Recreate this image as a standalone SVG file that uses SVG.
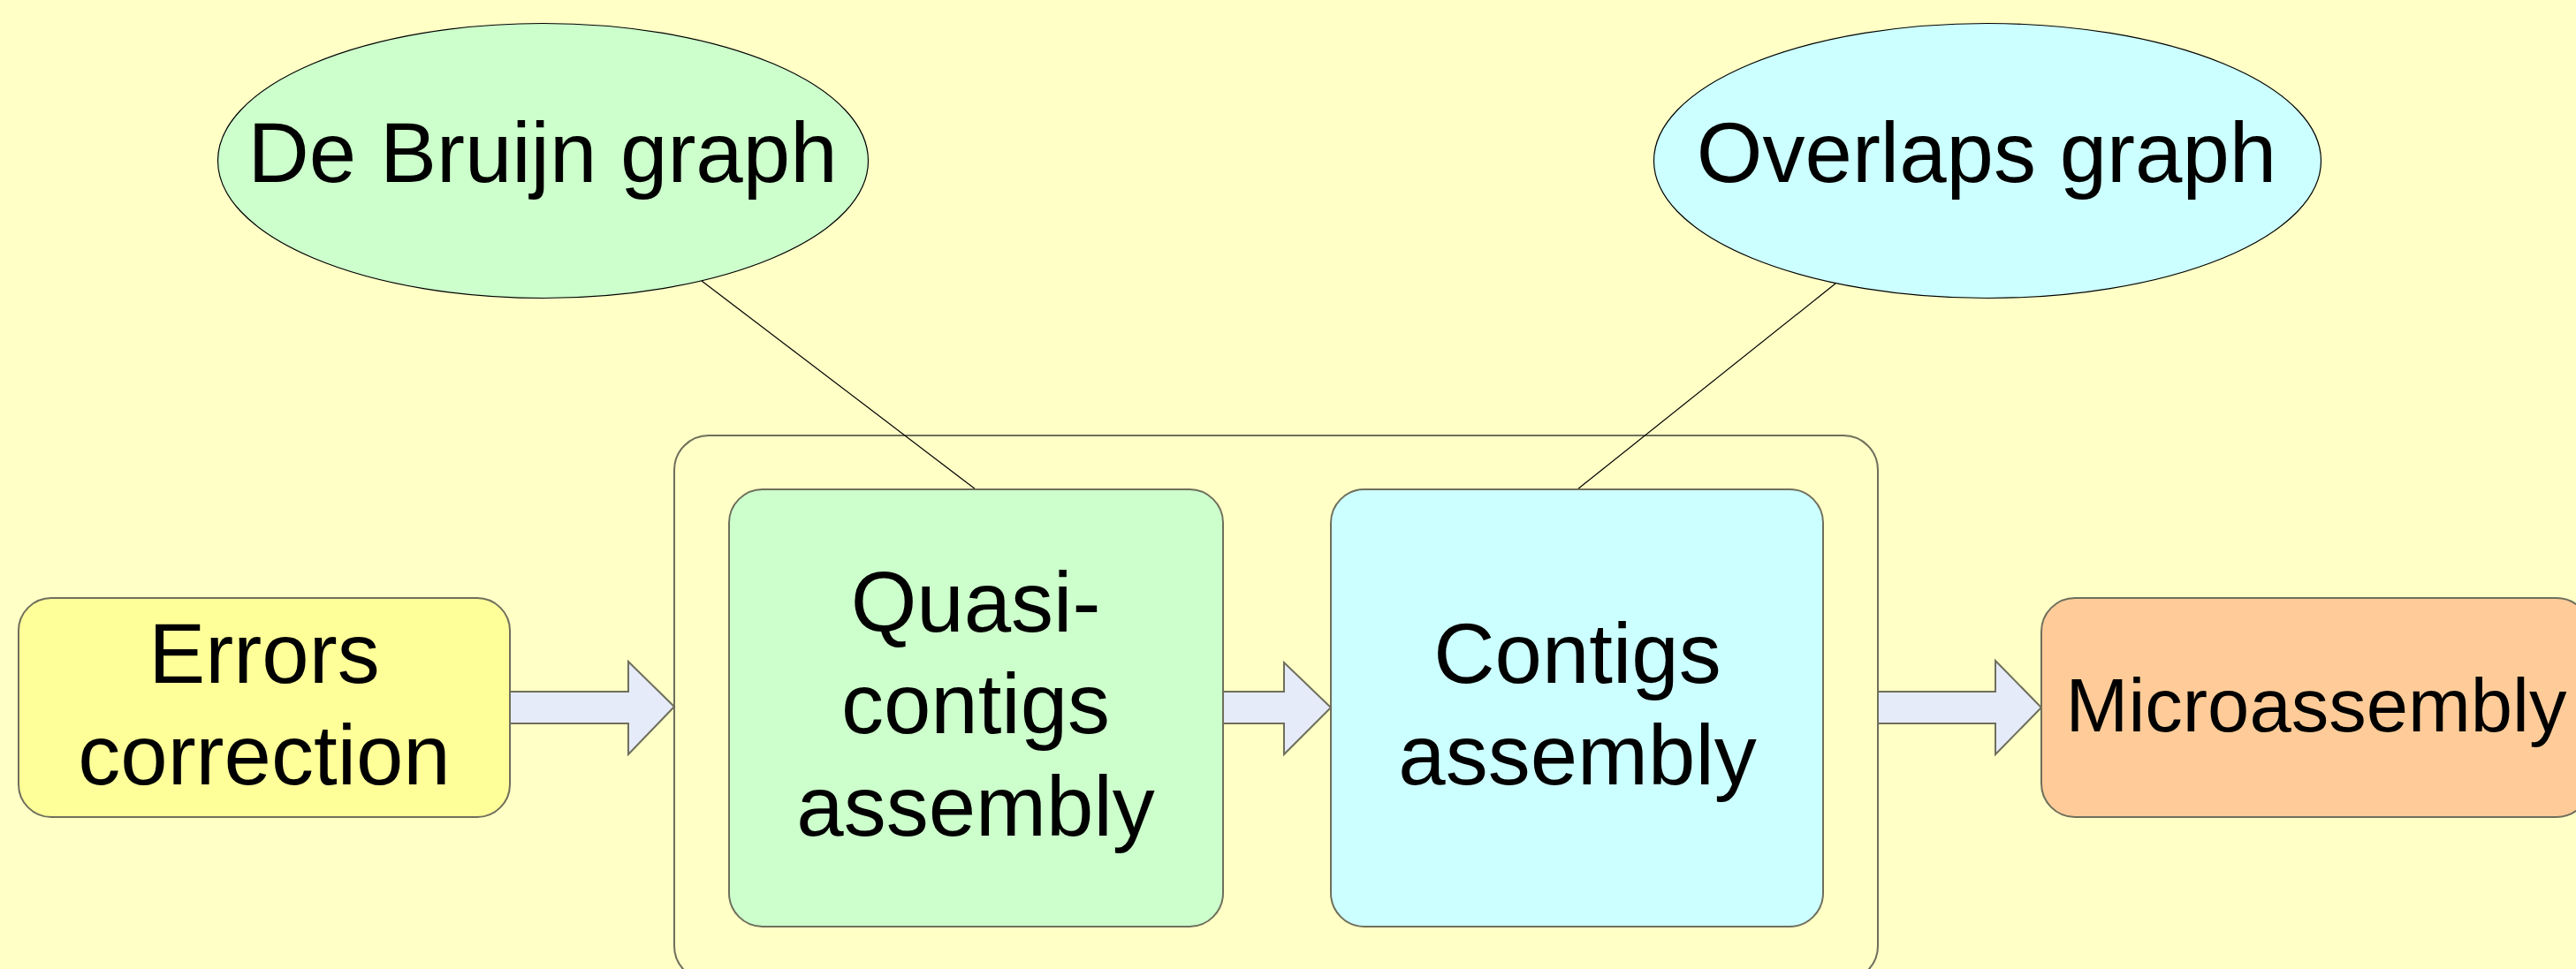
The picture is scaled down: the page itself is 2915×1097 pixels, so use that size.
<svg xmlns="http://www.w3.org/2000/svg" width="2915" height="1097" viewBox="0 0 2915 1097">
  <style>
    .box { stroke: #6f6f5c; stroke-width: 2; }
    .oval { stroke: #000000; stroke-width: 1.2; }
    .flow { fill: #e5ebf8; stroke: #6f6f5c; stroke-width: 2; stroke-linejoin: miter; }
    .link { stroke: #000000; stroke-width: 1.2; fill: none; }
    .lbl { font-family: "Liberation Sans", Arial, sans-serif; font-size: 96px; fill: #000000; text-anchor: middle; }
    .green { fill: #ccffcc; }
    .cyan { fill: #ccffff; }
  </style>

  <!-- page background -->
  <rect x="0" y="0" width="2915" height="1097" fill="#ffffc6"/>

  <!-- group frame around the two assembly stages -->
  <g id="assembly-stage">
    <rect x="763" y="493" width="1362" height="617" rx="39" ry="39" fill="none" class="box"/>
  </g>

  <!-- connectors: block arrows and graph links -->
  <g id="connectors">
    <polygon class="flow" points="577,783 711,783 711,749 763,800 711,854 711,819 577,819"/>
    <polygon class="flow" points="1384,783 1453,783 1453,750 1506,801 1453,854 1453,819 1384,819"/>
    <polygon class="flow" points="2125,783 2258,783 2258,748 2310,801 2258,854 2258,819 2125,819"/>
    <line class="link" x1="794" y1="318" x2="1104" y2="554"/>
    <line class="link" x1="2077" y1="321" x2="1785" y2="554"/>
  </g>

  <g id="errors-correction">
    <rect x="21" y="677" width="556" height="248" rx="37" ry="37" fill="#ffff99" class="box"/>
    <text class="lbl" x="299" y="773">Errors</text>
    <text class="lbl" x="299" y="888">correction</text>
  </g>

  <g id="quasi-contigs-assembly">
    <rect x="825" y="554" width="559" height="495" rx="38" ry="38" class="box green"/>
    <text class="lbl" x="1104" y="715">Quasi-</text>
    <text class="lbl" x="1104" y="830">contigs</text>
    <text class="lbl" x="1104" y="946">assembly</text>
  </g>

  <g id="contigs-assembly">
    <rect x="1506" y="554" width="557" height="495" rx="38" ry="38" class="box cyan"/>
    <text class="lbl" x="1785" y="773">Contigs</text>
    <text class="lbl" x="1785" y="888">assembly</text>
  </g>

  <g id="microassembly">
    <rect x="2310" y="677" width="621" height="248" rx="38" ry="38" fill="#ffcc99" class="box"/>
    <text class="lbl" x="2621" y="828" style="font-size:85px">Microassembly</text>
  </g>

  <g id="de-bruijn-graph">
    <ellipse cx="614.5" cy="182" rx="368" ry="155.5" class="oval green"/>
    <text class="lbl" x="614" y="206">De Bruijn graph</text>
  </g>

  <g id="overlaps-graph">
    <ellipse cx="2249" cy="182" rx="377.5" ry="155.5" class="oval cyan"/>
    <text class="lbl" x="2248" y="206">Overlaps graph</text>
  </g>
</svg>
